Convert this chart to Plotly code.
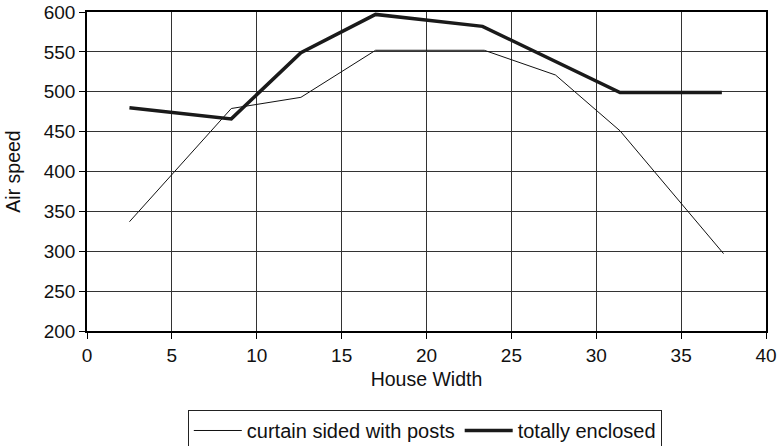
import plotly.graph_objects as go

width_curtain = [2.5, 8.5, 12.6, 17, 23.4, 27.6, 31.4, 37.5]
speed_curtain = [337, 479, 493, 552, 552, 521, 451, 297]

width_enclosed = [2.5, 8.5, 12.6, 17, 23.3, 31.4, 37.4]
speed_enclosed = [480, 466, 549, 597, 582, 499, 499]

FONT = "Liberation Sans, Arial, sans-serif"

fig = go.Figure()
fig.add_trace(go.Scatter(x=width_curtain, y=speed_curtain, mode="lines",
                         name="curtain sided with posts",
                         line=dict(color="#111111", width=1)))
fig.add_trace(go.Scatter(x=width_enclosed, y=speed_enclosed, mode="lines",
                         name="totally enclosed",
                         line=dict(color="#1a1a1a", width=3.5)))

axis_common = dict(showline=True, linecolor="black", linewidth=1.5, mirror=True,
                   showgrid=True, gridcolor="#333333", gridwidth=1,
                   ticks="outside", ticklen=6, tickcolor="black", zeroline=False,
                   automargin=False,
                   tickfont=dict(family=FONT, size=19, color="#111111"))

# Figure is taller than the 446px window so the legend box runs off
# the bottom edge, as in the reference.
fig.update_layout(
    template="none",
    width=780, height=470,
    margin=dict(l=87, r=14, t=12, b=139),
    paper_bgcolor="white", plot_bgcolor="white",
    font=dict(family=FONT, size=19, color="#111111"),
    xaxis=dict(range=[0, 40], dtick=5,
               title=dict(text="House Width", standoff=8, font=dict(size=19.5)),
               **axis_common),
    yaxis=dict(range=[200, 600], dtick=50,
               title=dict(text="Air speed", standoff=18, font=dict(size=19.5)),
               **axis_common),
    legend=dict(orientation="h", x=0.4975, xanchor="center", y=-0.2476, yanchor="top",
                bordercolor="#222222", borderwidth=1, bgcolor="white",
                font=dict(size=20), itemwidth=48),
    showlegend=True,
)

fig.write_html("out.html", config={"displayModeBar": False},
               post_script="document.body.style.margin='0';document.body.style.overflow='hidden';")
